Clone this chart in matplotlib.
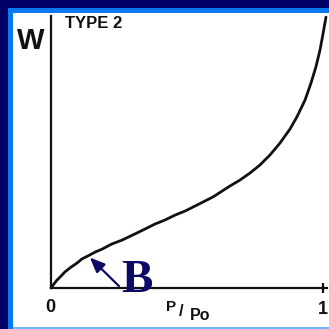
import matplotlib
matplotlib.use("Agg")
import matplotlib.pyplot as plt
from matplotlib.patches import Rectangle

# Type 2 adsorption isotherm: amount adsorbed W against relative pressure P/Po
p_rel = [0.0, 0.011, 0.022, 0.037, 0.051, 0.074, 0.096, 0.114, 0.136, 0.162,
         0.188, 0.224, 0.261, 0.301, 0.346, 0.382, 0.419, 0.456, 0.493, 0.537,
         0.596, 0.658, 0.695, 0.732, 0.768, 0.805, 0.842, 0.879, 0.904, 0.934,
         0.956, 0.974, 0.989, 1.000, 1.011]
w_ads = [0.0, 0.015, 0.029, 0.044, 0.059, 0.077, 0.092, 0.107, 0.118, 0.132,
         0.143, 0.162, 0.176, 0.195, 0.217, 0.235, 0.250, 0.268, 0.283, 0.305,
         0.335, 0.375, 0.397, 0.423, 0.452, 0.489, 0.533, 0.585, 0.629, 0.691,
         0.754, 0.813, 0.875, 0.934, 0.996]

# point B (end of monolayer formation) and where its arrow starts
b_tip = (0.143, 0.112)
b_tail = (0.250, 0.007)

W_PX = 329
navy = "#000066"
blue = "#0a78f0"

fig = plt.figure(figsize=(W_PX / 100, W_PX / 100), dpi=100, facecolor=navy)


def fx(px):
    return px / W_PX


def fy(py):
    return 1 - py / W_PX


# slide frame: bright blue band and white panel
fig.patches.append(Rectangle((fx(8), 0), 1 - fx(8), fy(8), transform=fig.transFigure,
                             facecolor=blue, edgecolor="none", zorder=-2))
fig.patches.append(Rectangle((fx(13), fy(327)), 1 - fx(13), fy(13) - fy(327),
                             transform=fig.transFigure, facecolor="white",
                             edgecolor="none", zorder=-1))
fig.patches.append(Rectangle((fx(13), 0), 1 - fx(13), fy(327),
                             transform=fig.transFigure, facecolor="#6fb4ff",
                             edgecolor="none", zorder=-1))

# axes: x=0 at px 51, x=1 at px 323; y=0 at px 288, y=1 at px 16
ax = fig.add_axes([fx(51), fy(288), (327 - 51) / W_PX, (288 - 16) / W_PX])
ax.set_zorder(2)
ax.set_xlim(0, (327 - 51) / 272)
ax.set_ylim(0, 1)
ax.patch.set_alpha(0)
for side in ("top", "right"):
    ax.spines[side].set_visible(False)
for side in ("left", "bottom"):
    ax.spines[side].set_linewidth(1.6)
    ax.spines[side].set_color("#111111")
ax.set_yticks([])
ax.set_xticks([1])
ax.set_xticklabels([""])
ax.tick_params(axis="x", direction="inout", length=7, width=1.6, color="#111111")

ax.plot(p_rel, w_ads, color="#111111", lw=2.0, solid_capstyle="round",
        solid_joinstyle="round", clip_on=False)

ax.annotate("", xy=b_tip, xytext=b_tail,
            arrowprops=dict(arrowstyle="-|>,head_length=0.9,head_width=0.38",
                            color="#0b0b66", lw=1.6, mutation_scale=10,
                            shrinkA=0, shrinkB=0))

sans = "Liberation Sans"
fig.text(fx(31), fy(41), "W", fontsize=21, fontweight="bold", family=sans,
         ha="center", va="center", color="#111111", zorder=3)
fig.text(fx(65), fy(24), "TYPE 2", fontsize=12, fontweight="bold", family=sans,
         ha="left", va="center", color="#111111", zorder=3)
fig.text(fx(50), fy(307), "0", fontsize=13, fontweight="bold", family=sans,
         ha="center", va="center", color="#111111", zorder=3)
fig.text(fx(323), fy(309), "1", fontsize=13, fontweight="bold", family=sans,
         ha="center", va="center", color="#111111", zorder=3)
fig.text(fx(171), fy(307), "P", fontsize=11, fontweight="bold", family=sans,
         ha="center", va="center", color="#111111", zorder=3)
fig.text(fx(181), fy(311), "/", fontsize=12, fontweight="bold", family=sans,
         ha="center", va="center", color="#111111", zorder=3)
fig.text(fx(200), fy(316), "Po", fontsize=11.5, fontweight="bold", family=sans,
         ha="center", va="center", color="#111111", zorder=3)
fig.text(fx(137), fy(281), "B", fontsize=34, fontweight="bold",
         family="Liberation Serif", ha="center", va="center", color="#0b0b66",
         zorder=3)

fig.savefig("out.png", dpi=100, facecolor=navy)
